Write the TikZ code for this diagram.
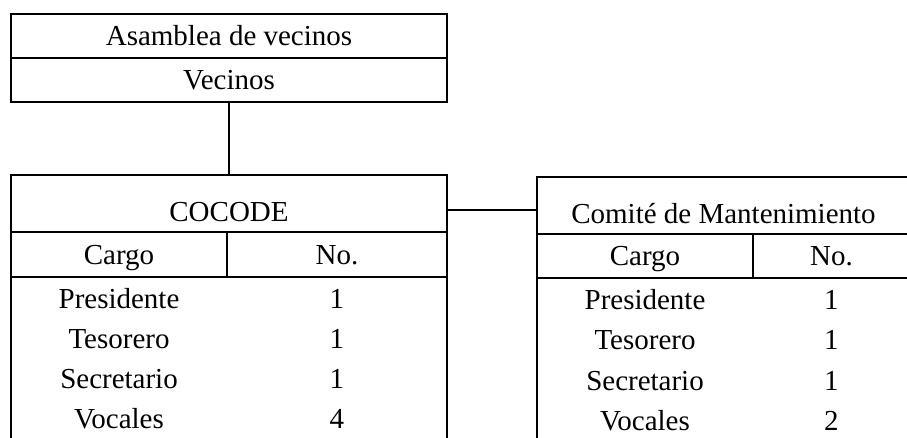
\documentclass[tikz,border=0pt]{standalone}
\usepackage{fontspec}
\setmainfont{Liberation Serif}
\usetikzlibrary{positioning}

\begin{document}
\begin{tikzpicture}[x=0.02cm, y=-0.02cm, line width=1.6pt,
      every node/.append style={inner sep=0pt, outer sep=0pt, font=\fontsize{16.5}{20}\selectfont},
      cell/.style={draw, rectangle, text height=10.9pt, text depth=0pt},
      title/.style={cell, minimum height=1.14cm, text height=21pt},
      txt/.style={text height=10.9pt, text depth=0pt}]
    \useasboundingbox (0,0) rectangle (907,438);
    \clip (0,0) rectangle (907,438);
    % top box
    \node (asamblea) [cell, minimum width=8.72cm, minimum height=0.88cm] at (229,36) {Asamblea de vecinos};
    \node (vecinos) [cell, minimum width=8.72cm, minimum height=0.88cm] at (229,80) {Vecinos};
    % COCODE table
    \node (cocode) [title, minimum width=8.72cm] at (229,203.5) {COCODE};
    \node (cocodeCargo) [cell, below right=0pt of cocode.south west, minimum width=4.32cm, minimum height=0.9cm] {Cargo};
    \node (cocodeNo) [cell, right=0pt of cocodeCargo, minimum width=4.40cm, minimum height=0.9cm] {No.};
    \node (cocodeBody) [draw, below right=0pt of cocodeCargo.south west, minimum width=8.72cm, minimum height=4cm] {};
    \foreach \cargo/\num [count=\i] in {Presidente/1, Tesorero/1, Secretario/1, Vocales/4} {
      \node (cocodeRow\i) [txt] at ([yshift={-0.88cm-(\i-1)*0.806cm}]cocodeCargo.center) {\cargo};
      \node (cocodeNum\i) [txt] at (cocodeNo.center |- cocodeRow\i) {\num};
    }
    % Comite table
    \node (comite) [title, minimum width=7.46cm] at (723.5,205.5) {Comité de Mantenimiento};
    \node (comiteCargo) [cell, below right=0pt of comite.south west, minimum width=4.32cm, minimum height=0.88cm] {Cargo};
    \node (comiteNo) [cell, right=0pt of comiteCargo, minimum width=3.14cm, minimum height=0.88cm] {No.};
    \node (comiteBody) [draw, below right=0pt of comiteCargo.south west, minimum width=7.46cm, minimum height=4cm] {};
    \foreach \cargo/\num [count=\i] in {Presidente/1, Tesorero/1, Secretario/1, Vocales/2} {
      \node (comiteRow\i) [txt] at ([yshift={-0.88cm-(\i-1)*0.806cm}]comiteCargo.center) {\cargo};
      \node (comiteNum\i) [txt] at (comiteNo.center |- comiteRow\i) {\num};
    }
    % connectors
    \draw (vecinos.south) -- (vecinos.south |- cocode.north);
    \draw ([yshift=-0.13cm]cocode.east) -- ([yshift=-0.13cm]cocode.east -| comite.west);
\end{tikzpicture}
\end{document}
